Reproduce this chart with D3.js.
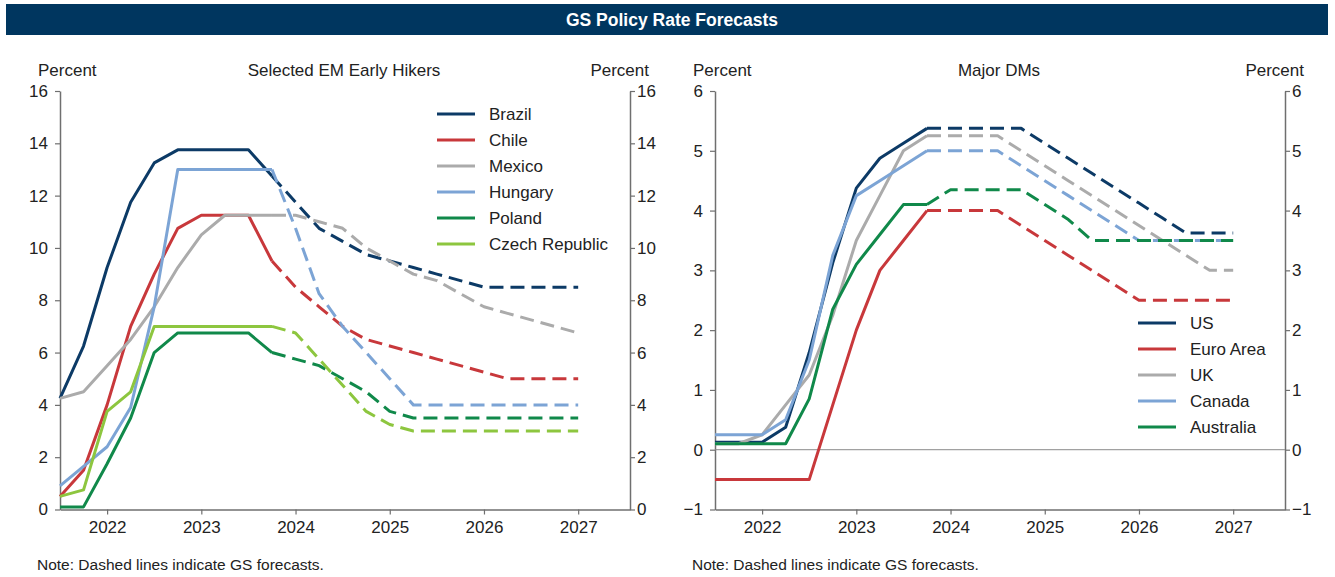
<!DOCTYPE html>
<html>
<head>
<meta charset="utf-8">
<script src="https://cdn.jsdelivr.net/npm/d3@7"></script>
<style>
	body { margin: 0; background: #fff; }
	svg { display: block; font-family: "Liberation Sans", Arial, sans-serif; }
	.tick text { font-size: 17px; fill: #222; }
</style>
</head>
<body>
<svg id="chart" width="1335" height="577"></svg>
<script>
// quarterly observations, Q3 2021 .. Q1 2027
const quarters = [2021.5, 2021.75, 2022, 2022.25, 2022.5, 2022.75, 2023, 2023.25, 2023.5, 2023.75,
	2024, 2024.25, 2024.5, 2024.75, 2025, 2025.25, 2025.5, 2025.75, 2026, 2026.25, 2026.5, 2026.75, 2027];
const forecastStart = 9; // 2023Q4 onwards is dashed
const yearTicks = [2022, 2023, 2024, 2025, 2026, 2027];

const emNames = ['Brazil', 'Chile', 'Mexico', 'Hungary', 'Poland', 'Czech Republic'];
const brazil = [4.25, 6.25, 9.25, 11.75, 13.25, 13.75, 13.75, 13.75, 13.75, 12.75, 11.75, 10.75, 10.25, 9.75, 9.5, 9.25, 9.0, 8.75, 8.5, 8.5, 8.5, 8.5, 8.5];
const chile = [0.5, 1.5, 4.0, 7.0, 9.0, 10.75, 11.25, 11.25, 11.25, 9.5, 8.5, 7.75, 7.0, 6.5, 6.25, 6.0, 5.75, 5.5, 5.25, 5.0, 5.0, 5.0, 5.0];
const mexico = [4.25, 4.5, 5.5, 6.5, 7.75, 9.25, 10.5, 11.25, 11.25, 11.25, 11.25, 11.0, 10.75, 10.0, 9.5, 9.0, 8.75, 8.25, 7.75, 7.5, 7.25, 7.0, 6.75];
const hungary = [0.9, 1.65, 2.4, 3.9, 7.75, 13.0, 13.0, 13.0, 13.0, 13.0, 10.75, 8.25, 7.0, 6.0, 5.0, 4.0, 4.0, 4.0, 4.0, 4.0, 4.0, 4.0, 4.0];
const poland = [0.1, 0.1, 1.75, 3.5, 6.0, 6.75, 6.75, 6.75, 6.75, 6.0, 5.75, 5.5, 5.0, 4.5, 3.75, 3.5, 3.5, 3.5, 3.5, 3.5, 3.5, 3.5, 3.5];
const czech = [0.5, 0.75, 3.75, 4.5, 7.0, 7.0, 7.0, 7.0, 7.0, 7.0, 6.75, 5.75, 4.75, 3.75, 3.25, 3.0, 3.0, 3.0, 3.0, 3.0, 3.0, 3.0, 3.0];
const emTicks = [0, 2, 4, 6, 8, 10, 12, 14, 16];

const dmNames = ['US', 'Euro Area', 'UK', 'Canada', 'Australia'];
const us = [0.125, 0.125, 0.125, 0.375, 1.625, 3.125, 4.375, 4.875, 5.125, 5.375, 5.375, 5.375, 5.375, 5.375, 5.125, 4.875, 4.625, 4.375, 4.125, 3.875, 3.625, 3.625, 3.625];
const euroArea = [-0.5, -0.5, -0.5, -0.5, -0.5, 0.75, 2.0, 3.0, 3.5, 4.0, 4.0, 4.0, 4.0, 3.75, 3.5, 3.25, 3.0, 2.75, 2.5, 2.5, 2.5, 2.5, 2.5];
const uk = [0.1, 0.1, 0.25, 0.75, 1.25, 2.25, 3.5, 4.25, 5.0, 5.25, 5.25, 5.25, 5.25, 5.0, 4.75, 4.5, 4.25, 4.0, 3.75, 3.5, 3.25, 3.0, 3.0];
const canada = [0.25, 0.25, 0.25, 0.5, 1.5, 3.25, 4.25, 4.5, 4.75, 5.0, 5.0, 5.0, 5.0, 4.75, 4.5, 4.25, 4.0, 3.75, 3.5, 3.5, 3.5, 3.5, 3.5];
const australia = [0.1, 0.1, 0.1, 0.1, 0.85, 2.35, 3.1, 3.6, 4.1, 4.1, 4.35, 4.35, 4.35, 4.35, 4.1, 3.85, 3.5, 3.5, 3.5, 3.5, 3.5, 3.5, 3.5];
const dmTicks = [-1, 0, 1, 2, 3, 4, 5, 6];

const palette = ['#0c3a66', '#c8383b', '#ababab', '#7ca4d5', '#10894a', '#8dc63f'];

const svg = d3.select('#chart');
const axisColor = '#6f6f6f';

// header bar
svg.append('rect')
	.attr('x', 6).attr('y', 4)
	.attr('width', 1322).attr('height', 31)
	.attr('fill', '#00365f');
svg.append('text')
	.attr('x', 672).attr('y', 21)
	.attr('text-anchor', 'middle')
	.attr('dominant-baseline', 'middle')
	.attr('fill', '#fff')
	.attr('font-size', 17.5)
	.attr('font-weight', 'bold')
	.text('GS Policy Rate Forecasts');

const drawPanel = (opts) => {
	const g = svg.append('g');
	const top = 91, bottom = 509.5;

	const x = d3.scaleLinear()
		.domain([2021.5, 2027.55])
		.range([opts.left, opts.right]);

	const y = d3.scaleLinear()
		.domain(opts.yDomain)
		.range([bottom, top]);

	const styleAxis = (sel) => {
		sel.select('.domain').attr('stroke', axisColor).attr('stroke-width', 1.5);
		sel.selectAll('.tick line').attr('stroke', axisColor).attr('stroke-width', 1.2);
		sel.selectAll('.tick text').attr('font-family', null).attr('font-size', null);
	};

	const fmt = (d) => d < 0 ? '\u22121' : d;

	g.append('g')
		.attr('transform', `translate(${opts.left},0)`)
		.call(d3.axisLeft(y).tickValues(opts.ticks).tickSize(5).tickSizeOuter(0).tickPadding(7).tickFormat(fmt))
		.call(styleAxis);

	g.append('g')
		.attr('transform', `translate(${opts.right},0)`)
		.call(d3.axisRight(y).tickValues(opts.ticks).tickSize(5).tickSizeOuter(0).tickPadding(2).tickFormat(fmt))
		.call(styleAxis);

	if (opts.yDomain[0] < 0) {
		g.append('line')
			.attr('x1', opts.left).attr('x2', opts.right)
			.attr('y1', y(0)).attr('y2', y(0))
			.attr('stroke', '#8a8a8a')
			.attr('stroke-width', 1);
	}

	g.append('g')
		.attr('transform', `translate(0,${bottom})`)
		.call(d3.axisBottom(x).tickValues(yearTicks).tickSize(5).tickSizeOuter(0).tickPadding(6).tickFormat(d3.format('d')))
		.call(styleAxis);

	const line = d3.line()
		.x(d => x(d[0]))
		.y(d => y(d[1]));

	opts.series.forEach((vals, i) => {
		const pts = quarters.map((q, j) => [q, vals[j]]);
		g.append('path')
			.attr('d', line(pts.slice(0, forecastStart + 1)))
			.attr('fill', 'none')
			.attr('stroke', palette[i])
			.attr('stroke-width', 3)
			.attr('stroke-linejoin', 'round');
		g.append('path')
			.attr('d', line(pts.slice(forecastStart)))
			.attr('fill', 'none')
			.attr('stroke', palette[i])
			.attr('stroke-width', 3)
			.attr('stroke-dasharray', '14,7')
			.attr('stroke-linejoin', 'round');
	});

	// legend
	const leg = g.selectAll('.leg')
		.data(opts.names)
		.enter()
		.append('g')
		.attr('transform', (d, i) => `translate(${opts.legendX},${opts.legendY + i * 26})`);

	leg.append('line')
		.attr('x1', 0).attr('x2', 38)
		.attr('stroke', (d, i) => palette[i])
		.attr('stroke-width', 3);

	leg.append('text')
		.attr('x', 52)
		.attr('y', 1.5)
		.attr('dominant-baseline', 'middle')
		.attr('font-size', 17)
		.attr('fill', '#222')
		.text(d => d);

	// headings
	const label = (tx, ty, anchor, str, size) => {
		g.append('text')
			.attr('x', tx).attr('y', ty)
			.attr('text-anchor', anchor)
			.attr('dominant-baseline', 'middle')
			.attr('font-size', size)
			.attr('fill', '#222')
			.text(str);
	};
	label(opts.left - 22, 71.5, 'start', 'Percent', 17);
	label(opts.right + 19, 71.5, 'end', 'Percent', 17);
	label((opts.left + opts.right) / 2 - 1, 71.5, 'middle', opts.title, 17);
	label(opts.left - 23, 566, 'start', 'Note: Dashed lines indicate GS forecasts.', 15.5);
};

drawPanel({
	left: 60, right: 630,
	yDomain: [0, 16], ticks: emTicks,
	series: [brazil, chile, mexico, hungary, poland, czech],
	names: emNames,
	title: 'Selected EM Early Hikers',
	legendX: 437, legendY: 114
});

drawPanel({
	left: 715, right: 1285,
	yDomain: [-1, 6], ticks: dmTicks,
	series: [us, euroArea, uk, canada, australia],
	names: dmNames,
	title: 'Major DMs',
	legendX: 1138, legendY: 323
});
</script>
</body>
</html>
